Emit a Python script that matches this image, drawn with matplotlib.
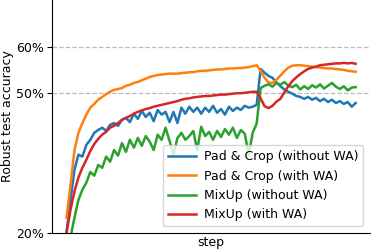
import numpy as np
import matplotlib
matplotlib.use("Agg")
import matplotlib.pyplot as plt
from matplotlib.ticker import FuncFormatter

labels = ["Pad & Crop (without WA)", "Pad & Crop (with WA)",
          "MixUp (without WA)", "MixUp (with WA)"]

pad_crop = [20.3, 27.0, 33.6, 36.8, 36.4, 38.9, 40.0, 41.5, 42.1, 42.6,
            41.9, 43.2, 43.6, 43.0, 44.3, 44.7, 43.8, 45.6, 44.5, 46.2,
            44.9, 45.8, 44.0, 46.4, 45.4, 46.0, 43.8, 46.0, 43.6, 46.9,
            45.6, 47.1, 46.0, 46.9, 45.6, 46.9, 46.0, 47.3, 45.8, 46.6,
            45.4, 47.1, 46.2, 46.9, 46.4, 47.3, 46.9, 47.1, 47.5, 55.2,
            54.4, 53.7, 53.3, 52.3, 51.5, 50.8, 50.3, 49.9, 49.4, 49.2,
            48.8, 49.2, 48.6, 49.0, 48.3, 48.8, 48.1, 48.6, 47.9, 48.3,
            47.7, 48.1, 47.1, 47.9]

pad_crop_wa = [23.3, 30.3, 37.8, 41.5, 43.6, 45.4, 46.9, 47.7, 48.6, 49.2,
               49.8, 50.3, 50.7, 50.9, 51.1, 51.6, 51.8, 52.2, 52.4, 52.8,
               53.1, 53.5, 53.7, 53.9, 54.0, 54.1, 54.2, 54.2, 54.2, 54.3,
               54.4, 54.5, 54.5, 54.7, 54.8, 54.8, 54.9, 55.0, 55.1, 55.1,
               55.2, 55.3, 55.3, 55.4, 55.4, 55.5, 55.6, 55.8, 56.0, 54.8,
               53.3, 52.3, 52.2, 52.9, 53.8, 54.7, 55.5, 55.9, 56.0, 56.0,
               55.9, 55.8, 55.7, 55.6, 55.5, 55.4, 55.3, 55.3, 55.2, 55.1,
               55.0, 54.8, 54.7, 54.6]

mixup = [14.0, 19.0, 23.3, 27.1, 29.3, 30.8, 33.1, 32.3, 34.6, 34.0,
         36.4, 35.3, 37.8, 36.6, 39.3, 37.4, 40.0, 38.3, 40.4, 38.7,
         40.8, 39.6, 37.8, 41.1, 40.0, 42.6, 39.8, 36.8, 40.4, 41.5,
         40.0, 40.8, 41.9, 37.8, 42.8, 40.8, 41.7, 40.0, 41.9, 40.6,
         42.3, 41.1, 42.6, 40.4, 42.1, 41.3, 36.8, 41.5, 43.5, 51.1,
         51.6, 51.9, 51.4, 52.2, 51.8, 52.4, 51.6, 51.3, 51.8, 50.8,
         51.5, 50.9, 51.7, 51.2, 51.9, 51.0, 51.6, 52.2, 51.4, 50.9,
         51.5, 50.6, 51.2, 51.3]

mixup_wa = [20.0, 25.0, 28.9, 31.9, 34.0, 35.7, 37.6, 39.1, 40.2, 41.1,
            41.7, 42.6, 43.0, 43.6, 44.3, 44.7, 45.1, 45.6, 46.0, 46.3,
            46.6, 46.8, 47.1, 47.3, 47.5, 47.7, 47.9, 48.1, 48.3, 48.6,
            48.8, 48.9, 49.1, 49.2, 49.3, 49.4, 49.4, 49.5, 49.6, 49.7,
            49.7, 49.8, 49.9, 50.0, 50.0, 50.1, 50.2, 50.3, 50.3, 48.9,
            47.2, 46.8, 47.3, 48.2, 48.8, 50.2, 51.5, 52.6, 53.4, 54.1,
            54.7, 55.2, 55.5, 55.7, 56.0, 56.1, 56.2, 56.3, 56.4, 56.4,
            56.5, 56.4, 56.5, 56.3]

series = [pad_crop, pad_crop_wa, mixup, mixup_wa]
colors = ["tab:blue", "tab:orange", "tab:green", "tab:red"]
yticks = [20, 50, 60]

fig = plt.figure(figsize=(3.72, 2.5), dpi=100)
ax = fig.add_axes([0.14, 0.068, 0.855, 0.932])

steps = np.arange(len(pad_crop))
for vals, c, lab in zip(series, colors, labels):
    ax.plot(steps, vals, color=c, lw=1.8, label=lab)

ax.set_ylim(20, 70)
ax.set_yticks(yticks)
ax.yaxis.set_major_formatter(FuncFormatter(lambda v, p: f"{v:.0f}%"))
ax.tick_params(axis="y", labelsize=9, length=3.5, pad=2.5)
ax.set_xticks([])
for v in yticks[1:]:
    ax.axhline(v, color="#bbbbbb", lw=0.9, ls="--", zorder=0)

ax.spines["top"].set_visible(False)
ax.spines["right"].set_visible(False)
ax.set_xlabel("step", fontsize=9, labelpad=2)
ax.set_ylabel("Robust test accuracy", fontsize=9, labelpad=1.5)
ax.legend(loc="lower right", fontsize=9, handlelength=2.3,
          handletextpad=0.6, borderaxespad=0.55)

fig.savefig("out.png", dpi=100)
